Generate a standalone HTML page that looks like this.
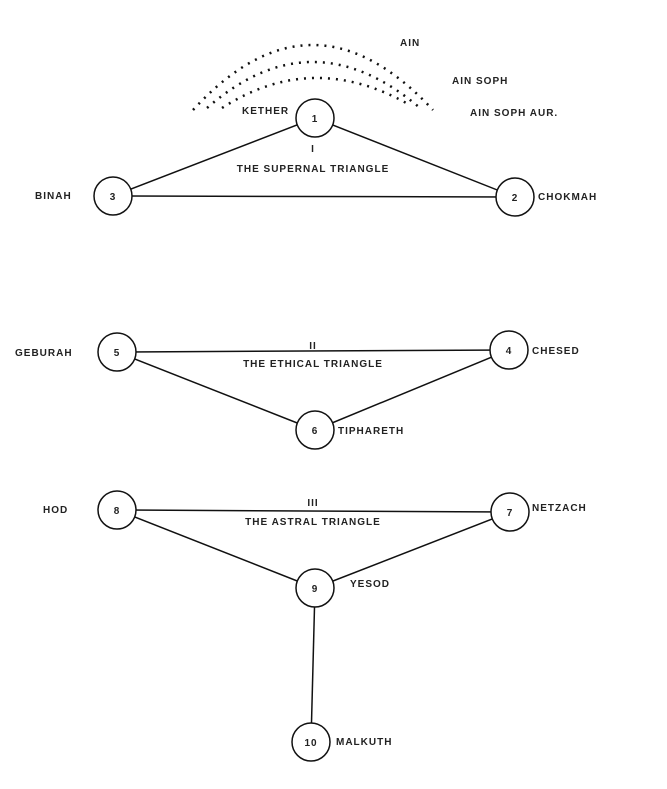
<!DOCTYPE html>
<html><head><style>
body{margin:0;background:#fff}
svg text{font-family:"Liberation Sans",sans-serif;font-size:10px;font-weight:bold;fill:#222;letter-spacing:1px}
</style></head><body>
<svg width="667" height="784" viewBox="0 0 667 784" xmlns="http://www.w3.org/2000/svg">
<g fill="none" stroke="#111" stroke-width="2.5" stroke-dasharray="2 6">
<path d="M193,110 Q312,-20 433,110"/>
<path d="M207,108 Q312,16 420,108"/>
<path d="M222,108 Q312,50 408,104"/>
</g>
<g stroke="#111" stroke-width="1.5" fill="none">
<line x1="315" y1="118" x2="113" y2="196"/>
<line x1="315" y1="118" x2="515" y2="197"/>
<line x1="113" y1="196" x2="515" y2="197"/>
<line x1="117" y1="352" x2="509" y2="350"/>
<line x1="117" y1="352" x2="315" y2="430"/>
<line x1="509" y1="350" x2="315" y2="430"/>
<line x1="117" y1="510" x2="510" y2="512"/>
<line x1="117" y1="510" x2="315" y2="588"/>
<line x1="510" y1="512" x2="315" y2="588"/>
<line x1="315" y1="588" x2="311" y2="742"/>
</g>
<g stroke="#111" stroke-width="1.5" fill="#fff">
<circle cx="315" cy="118" r="19"/>
<circle cx="515" cy="197" r="19"/>
<circle cx="113" cy="196" r="19"/>
<circle cx="117" cy="352" r="19"/>
<circle cx="509" cy="350" r="19"/>
<circle cx="315" cy="430" r="19"/>
<circle cx="117" cy="510" r="19"/>
<circle cx="510" cy="512" r="19"/>
<circle cx="315" cy="588" r="19"/>
<circle cx="311" cy="742" r="19"/>
</g>
<g text-anchor="middle">
<text x="315" y="122">1</text><text x="515" y="201">2</text><text x="113" y="200">3</text>
<text x="117" y="356">5</text><text x="509" y="354">4</text><text x="315" y="434">6</text>
<text x="117" y="514">8</text><text x="510" y="516">7</text><text x="315" y="592">9</text>
<text x="311" y="746">10</text>
<text x="313" y="152">I</text><text x="313" y="172">THE SUPERNAL TRIANGLE</text>
<text x="313" y="349">II</text><text x="313" y="367">THE ETHICAL TRIANGLE</text>
<text x="313" y="506">III</text><text x="313" y="525">THE ASTRAL TRIANGLE</text>
</g>
<text x="400" y="46">AIN</text>
<text x="452" y="84">AIN SOPH</text>
<text x="470" y="116">AIN SOPH AUR.</text>
<text x="242" y="114">KETHER</text>
<text x="35" y="199">BINAH</text>
<text x="538" y="200">CHOKMAH</text>
<text x="15" y="356">GEBURAH</text>
<text x="532" y="354">CHESED</text>
<text x="338" y="434">TIPHARETH</text>
<text x="43" y="513">HOD</text>
<text x="532" y="511">NETZACH</text>
<text x="350" y="587">YESOD</text>
<text x="336" y="745">MALKUTH</text>
</svg>
</body></html>
